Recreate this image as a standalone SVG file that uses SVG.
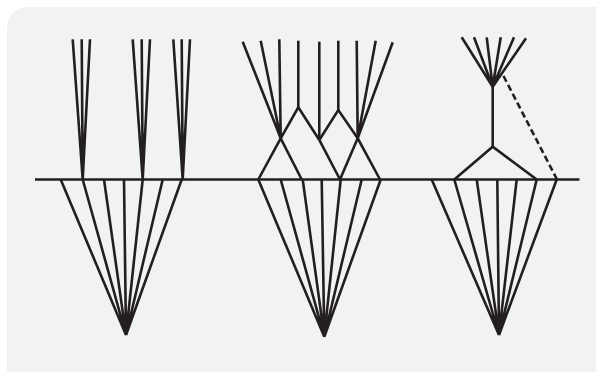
<svg xmlns="http://www.w3.org/2000/svg" width="596" height="372" viewBox="0 0 596 372">
  <style>
    .ln { fill: none; stroke: #231f20; stroke-width: 2.6; stroke-linecap: butt; stroke-linejoin: miter; }
    .dash { stroke-dasharray: 6.5 3.5; }
  </style>
  <rect x="0" y="0" width="596" height="372" fill="#ffffff"/>
  <rect x="7" y="7" width="610" height="390" rx="20" ry="20" fill="#f1f2f4"/>
  <g id="connectors">
    <g id="baseline">
      <line class="ln" x1="35" y1="179.5" x2="579.5" y2="179.5"/>
    </g>
    <g id="left-top">
      <path class="ln" d="M72.7 39.3L82.7 179.5M81.7 39.3L82.7 179.5M90 39.3L82.7 179.5"/>
      <path class="ln" d="M132.7 39.3L142.7 179.5M141.7 39.3L142.7 179.5M150 39.3L142.7 179.5"/>
      <path class="ln" d="M173.3 39.3L182.7 179.5M181.7 39.3L182.7 179.5M190 39.3L182.7 179.5"/>
    </g>
    <g id="left-bottom">
      <path class="ln" d="M60.7 179.5L126 335M82.7 179.5L126 335M104 179.5L126 335M124 179.5L126 335M142.7 179.5L126 335M162.7 179.5L126 335M181.7 179.5L126 335"/>
    </g>
    <g id="middle-top">
      <path class="ln" d="M242.7 41.7L280.7 138.3M260.7 40.7L280.7 138.3M279.3 39.3L280.7 138.3"/>
      <path class="ln" d="M298.3 40.7L298.3 107.3"/>
      <path class="ln" d="M319.3 41.7L319.3 140"/>
      <path class="ln" d="M338.3 40.7L338.3 110"/>
      <path class="ln" d="M356.7 40.7L357.7 138.3M375.7 40.7L357.7 138.3M392.7 42.3L357.7 138.3"/>
      <path class="ln" d="M258.3 179.5L280.7 138.3L298.3 107.3L319.3 140L340 179.5"/>
      <path class="ln" d="M280.7 138.3L301.7 179.5"/>
      <path class="ln" d="M319.3 140L338.3 110L357.7 138.3L380 179.5"/>
      <path class="ln" d="M357.7 138.3L340 179.5"/>
    </g>
    <g id="middle-bottom">
      <path class="ln" d="M258.3 179.5L324.3 336.7M280.7 179.5L324.3 336.7M302.7 179.5L324.3 336.7M321.7 179.5L324.3 336.7M340.7 179.5L324.3 336.7M361.7 179.5L324.3 336.7M380.7 179.5L324.3 336.7"/>
    </g>
    <g id="right-top">
      <path class="ln" d="M461.7 37.3L492.7 86.7M474 37.3L492.7 86.7M486.7 37.3L492.7 86.7M500.7 37.3L492.7 86.7M514 37.3L492.7 86.7M526 38.3L492.7 86.7"/>
      <path class="ln" d="M492.7 86.7L492.7 146.7"/>
      <path class="ln" d="M454.3 179.5L492.7 146.7L536.7 179.5"/>
      <path class="ln dash" d="M503.5 76L557 179.5"/>
    </g>
    <g id="right-bottom">
      <path class="ln" d="M431.7 179.5L499 335M454.3 179.5L499 335M476.7 179.5L499 335M497.3 179.5L499 335M516.7 179.5L499 335M536.7 179.5L499 335M556.7 179.5L499 335"/>
    </g>
  </g>
</svg>
